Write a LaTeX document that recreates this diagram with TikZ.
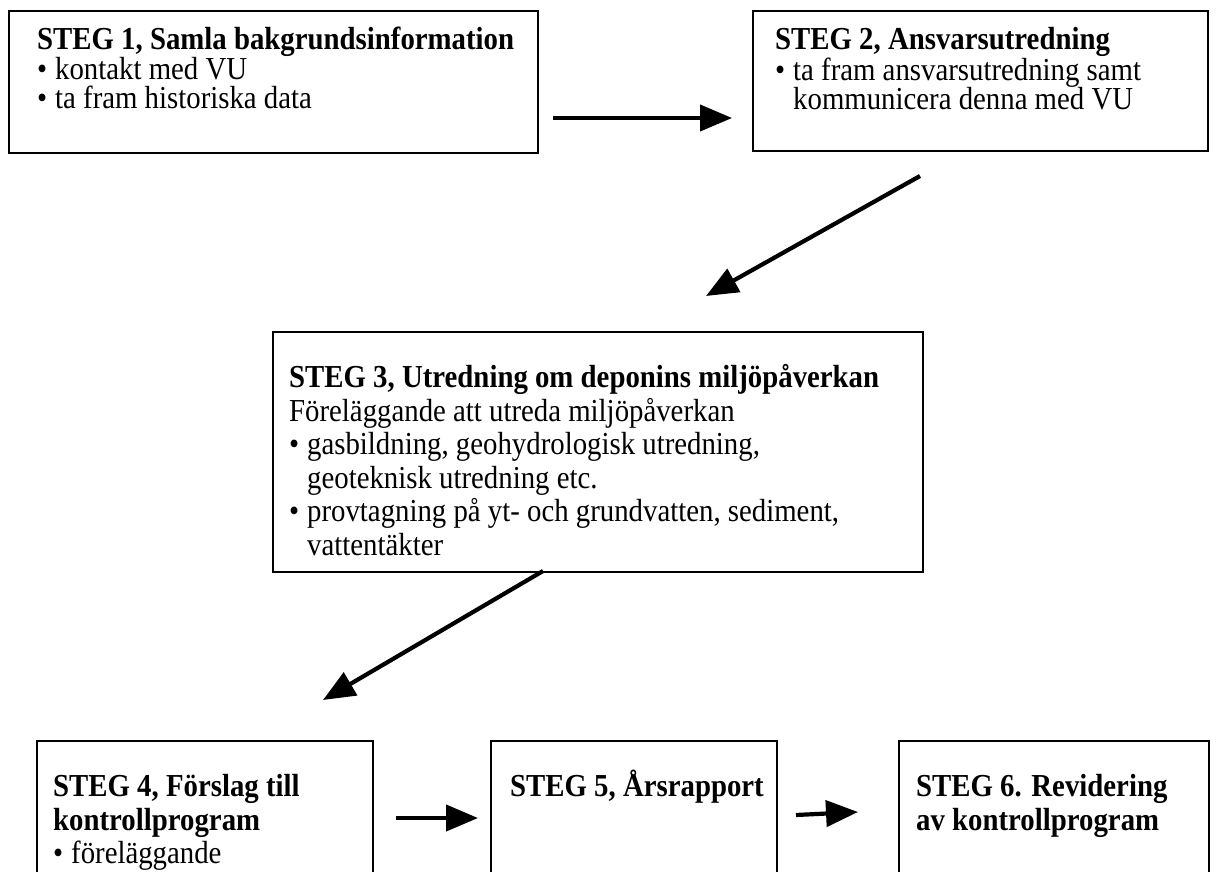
\documentclass[tikz,border=0pt]{standalone}
\usepackage{fontspec}
\setmainfont{Liberation Serif}[FakeStretch=0.9]
\usetikzlibrary{arrows.meta}
\newcommand\blt{\makebox[18pt][l]{•}}
\newcommand\ind{\hspace*{18pt}}
\newcommand\tallstrut{\rule{0pt}{28pt}}
\begin{document}
\begin{tikzpicture}[x=1pt,y=-1pt,
  box/.style={draw, line width=1.6pt, inner sep=0pt, anchor=north west},
  txt/.style={anchor=north west, inner sep=0pt, align=left, font=\fontsize{32}{33.5}\selectfont},
  tighttxt/.style={txt, font=\fontsize{32}{29.5}\selectfont},
  arr/.style={line width=4.2pt, -{Triangle[length=32pt,width=26pt]}}
]
\useasboundingbox (0,0) rectangle (1216,872);
% boxes
\node[box, minimum width=529pt, minimum height=142pt] (b1) at (8,10) {};
\node[box, minimum width=455pt, minimum height=140pt] (b2) at (752,10) {};
\node[box, minimum width=650pt, minimum height=240pt] (b3) at (272,331) {};
\node[box, minimum width=336pt, minimum height=132pt] (b4) at (36,740) {};
\node[box, minimum width=286pt, minimum height=132pt] (b5) at (490,740) {};
\node[box, minimum width=310pt, minimum height=132pt] (b6) at (898,740) {};
% texts
\node[tighttxt] (t1) at (37,21.5) {\tallstrut\textbf{STEG 1, Samla bakgrundsinformation}\\
  \blt kontakt med VU\\
  \blt ta fram historiska data};
\node[tighttxt] (t2) at (775,21.5) {\tallstrut\textbf{STEG 2, Ansvarsutredning}\\
  \blt ta fram ansvarsutredning samt\\
  \ind kommunicera denna med VU};
\node[txt] (t3) at (289,359.5) {\tallstrut\textbf{STEG 3, Utredning om deponins miljöpåverkan}\\
  Föreläggande att utreda miljöpåverkan\\
  \blt gasbildning, geohydrologisk utredning,\\
  \ind geoteknisk utredning etc.\\
  \blt provtagning på yt- och grundvatten, sediment,\\
  \ind vattentäkter};
\node[txt] (t4) at (53,768.5) {\tallstrut\textbf{STEG 4, Förslag till}\\
  \textbf{kontrollprogram}\\
  \blt föreläggande};
\node[txt] (t5) at (510,768.5) {\tallstrut\textbf{STEG 5, Årsrapport}};
\node[txt] (t6) at (916,768.5) {\tallstrut\textbf{STEG 6. Revidering}\\
  \textbf{av kontrollprogram}};
% connectors
\coordinate (a1s) at (553,118);
\coordinate (a1e) at (732,118);
\coordinate (a2s) at (920,176);
\coordinate (a2e) at (706,296);
\coordinate (a3s) at (543,571);
\coordinate (a3e) at (323,700);
\coordinate (a4s) at (396,818);
\coordinate (a4e) at (478,818);
\coordinate (a5s) at (796,815);
\coordinate (a5e) at (858,812);
\draw[arr] (a1s) -- (a1e);
\draw[arr] (a2s) -- (a2e);
\draw[arr] (a3s) -- (a3e);
\draw[arr] (a4s) -- (a4e);
\draw[arr] (a5s) -- (a5e);
\end{tikzpicture}
\end{document}
